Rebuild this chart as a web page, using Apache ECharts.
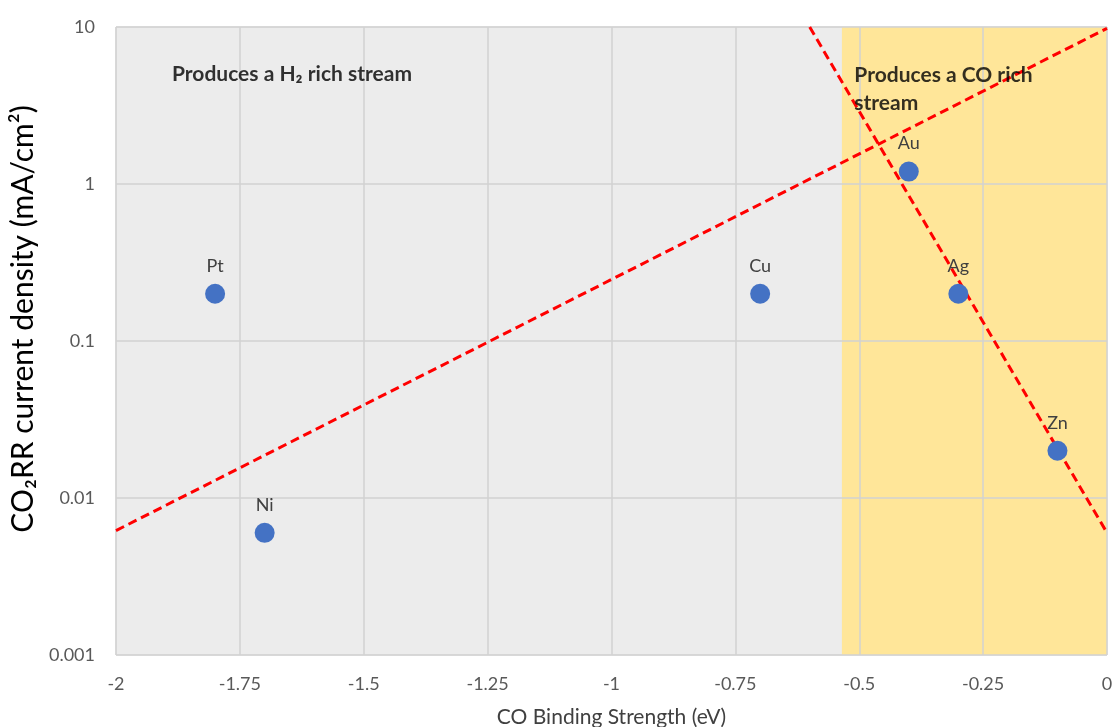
<!DOCTYPE html>
<html>
<head>
<meta charset="utf-8">
<script src="https://cdn.jsdelivr.net/npm/echarts@6/dist/echarts.min.js"></script>
<style>html,body{margin:0;padding:0;background:#fff}#c{width:1114px;height:727px}</style>
</head>
<body>
<div id="c"></div>
<script>
const metals = ['Pt', 'Ni', 'Cu', 'Au', 'Ag', 'Zn'];
const bindingEnergy = [-1.8, -1.7, -0.7, -0.4, -0.3, -0.1];
const currentDensity = [0.2, 0.006, 0.2, 1.2, 0.2, 0.02];
const trendLine1 = [[-2, 0.0062], [0, 9.8]];
const trendLine2 = [[-0.6, 10], [0, 0.006]];
const coRegion = [-0.535, 0];
const annotations = [
  {text: 'Produces a H₂ rich stream', x: -1.887, y: 5.0},
  {text: 'Produces a CO rich\nstream', x: -0.51, y: 4.0}
];
const xTicks = {min: -2, max: 0, interval: 0.25};
const yRange = {min: 0.001, max: 10};

const FONT = 'Lato, "Open Sans", sans-serif';
const chart = echarts.init(document.getElementById('c'));
chart.setOption({
  animation: false,
  grid: {left: 116, right: 7, top: 27, bottom: 72, containLabel: false, outerBoundsMode: 'none',
    show: true, backgroundColor: '#ececec', borderColor: '#d9d9d9', borderWidth: 1},
  xAxis: {
    type: 'value', min: xTicks.min, max: xTicks.max, interval: xTicks.interval, z: 2,
    name: 'CO Binding Strength (eV)', nameLocation: 'middle', nameGap: 52,
    nameTextStyle: {fontFamily: FONT, fontSize: 21, color: '#404040'},
    axisLine: {show: false}, axisTick: {show: false},
    axisLabel: {fontFamily: FONT, fontSize: 18, color: '#595959', margin: 20},
    splitLine: {show: true, lineStyle: {color: '#d2d2d2', width: 1.5}}
  },
  yAxis: {
    type: 'log', logBase: 10, min: yRange.min, max: yRange.max, z: 2,
    name: 'CO₂RR current density (mA/cm²)', nameLocation: 'middle', nameGap: 62,
    nameTextStyle: {fontFamily: FONT, fontSize: 30, color: '#000', padding: [0, 0, 0, 44]},
    axisLine: {show: false}, axisTick: {show: false},
    axisLabel: {fontFamily: FONT, fontSize: 18, color: '#595959', margin: 21,
      formatter: v => String(+v.toPrecision(3))},
    splitLine: {show: true, lineStyle: {color: '#d2d2d2', width: 1.5}}
  },
  series: [
    {
      type: 'line', data: [], silent: true, z: 1,
      markArea: {silent: true, itemStyle: {color: '#ffe699'},
        data: [[{xAxis: coRegion[0], yAxis: yRange.min}, {xAxis: coRegion[1], yAxis: yRange.max}]]}
    },
    {
      type: 'line', data: trendLine1, symbol: 'none', clip: true, z: 3,
      lineStyle: {color: '#ff0000', width: 3, type: [9, 5]}
    },
    {
      type: 'line', data: trendLine2, symbol: 'none', clip: true, z: 3,
      lineStyle: {color: '#ff0000', width: 3, type: [9, 5]}
    },
    {
      type: 'scatter', z: 4, symbolSize: 20,
      itemStyle: {color: '#4472c4', opacity: 1},
      data: metals.map((m, i) => ({name: m, value: [bindingEnergy[i], currentDensity[i]]})),
      label: {show: true, position: 'top', distance: 9, formatter: p => p.name,
        fontFamily: FONT, fontSize: 18, color: '#404040'}
    },
    {
      type: 'scatter', z: 5, symbolSize: 0, silent: true,
      data: annotations.map(a => ({name: a.text, value: [a.x, a.y]})),
      label: {show: true, position: 'inside', align: 'left', verticalAlign: 'middle',
        formatter: p => p.name, fontFamily: FONT, fontSize: 21, fontWeight: 'bold',
        color: '#000', lineHeight: 28}
    }
  ]
});
</script>
</body>
</html>
